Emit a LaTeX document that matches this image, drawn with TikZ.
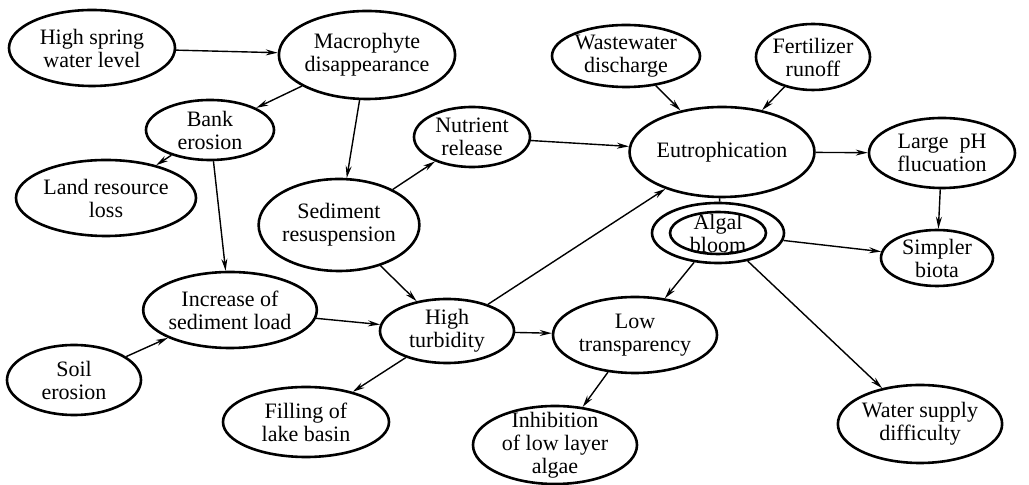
\documentclass[tikz,border=0pt]{standalone}
\usepackage{fontspec}
\setmainfont{Liberation Serif}
\usetikzlibrary{shapes.geometric}
\usetikzlibrary{arrows.meta}

\tikzset{
  blob/.style={ellipse, draw, line width=1.3pt, inner sep=0pt, align=center,
    font=\fontsize{11}{11.5}\selectfont},
  link/.style={line width=0.7pt, -{Stealth[length=6pt,width=3pt]}}
}

\begin{document}
\begin{tikzpicture}[x=0.5pt, y=-0.5pt]
    \useasboundingbox (0,0) rectangle (1029,485);

    % causes on the left
    \node[blob, minimum width=83pt, minimum height=38pt] (spring) at (92,48) {High spring\\water level};
    \node[blob, minimum width=79pt, minimum height=44pt] (macro) at (367,55) {Macrophyte\\disappearance};
    \node[blob, minimum width=64pt, minimum height=30pt] (bank) at (210,130) {Bank\\erosion};
    \node[blob, minimum width=90pt, minimum height=38pt] (land) at (106,198) {Land resource\\loss};
    \node[blob, minimum width=58pt, minimum height=30pt] (nutr) at (472,137) {Nutrient\\release};
    \node[blob, minimum width=78pt, minimum height=46pt] (resus) at (339,225) {Sediment\\resuspension};
    \node[blob, minimum width=83pt, minimum height=38pt] (load) at (230,310) {Increase of\\sediment load};
    \node[blob, minimum width=67pt, minimum height=35pt] (soil) at (74,380) {Soil\\erosion};
    \node[blob, minimum width=67pt, minimum height=32pt] (turb) at (447,331) {High\\turbidity};
    \node[blob, minimum width=83pt, minimum height=35pt] (fill) at (306,422) {Filling of\\lake basin};

    % eutrophication side
    \node[blob, minimum width=74pt, minimum height=31pt] (waste) at (626,56) {Wastewater\\discharge};
    \node[blob, minimum width=57pt, minimum height=33pt] (fert) at (813,57) {Fertilizer\\runoff};
    \node[blob, minimum width=90pt, minimum height=45pt] (eut) at (722,152) {Eutrophication};
    \node[blob, minimum width=73pt, minimum height=35pt] (ph) at (942,153) {Large~~pH\\flucuation};
    \node[blob, minimum width=66pt, minimum height=30pt] (alg) at (718,233) {Algal\\bloom};
    \draw[line width=1.3pt] (alg.center) ellipse [x radius=24pt, y radius=10.5pt];
    \node[blob, minimum width=56pt, minimum height=28pt] (biota) at (937,258) {Simpler\\biota};
    \node[blob, minimum width=82pt, minimum height=38pt] (transp) at (635,335) {Low\\transparency};
    \node[blob, minimum width=82pt, minimum height=39pt, inner sep=-3.5pt] (inhib) at (555,445) {Inhibition\\of low layer\\algae};
    \node[blob, minimum width=80pt, minimum height=39pt] (water) at (920,424) {Water supply\\difficulty};

    \draw[link] (spring) -- (macro);
    \draw[link] (macro) -- (bank);
    \draw[link] (macro) -- (resus);
    \draw[link] (bank) -- (land);
    \draw[link] (bank) -- (load);
    \draw[link] (resus) -- (nutr);
    \draw[link] (resus) -- (turb);
    \draw[link] (nutr) -- (eut);
    \draw[link] (waste) -- (eut);
    \draw[link] (fert) -- (eut);
    \draw[link] (eut) -- (ph);
    \draw[link] (ph) -- (biota);
    \draw[line width=0.7pt] (eut) -- (alg);
    \draw[link] (alg) -- (biota);
    \draw[link] (alg) -- (transp);
    \draw[link] (alg) -- (water);
    \draw[link] (soil) -- (load);
    \draw[link] (load) -- (turb);
    \draw[link] (turb) -- (eut);
    \draw[link] (turb) -- (fill);
    \draw[link] (turb) -- (transp);
    \draw[link] (transp) -- (inhib);
\end{tikzpicture}
\end{document}
